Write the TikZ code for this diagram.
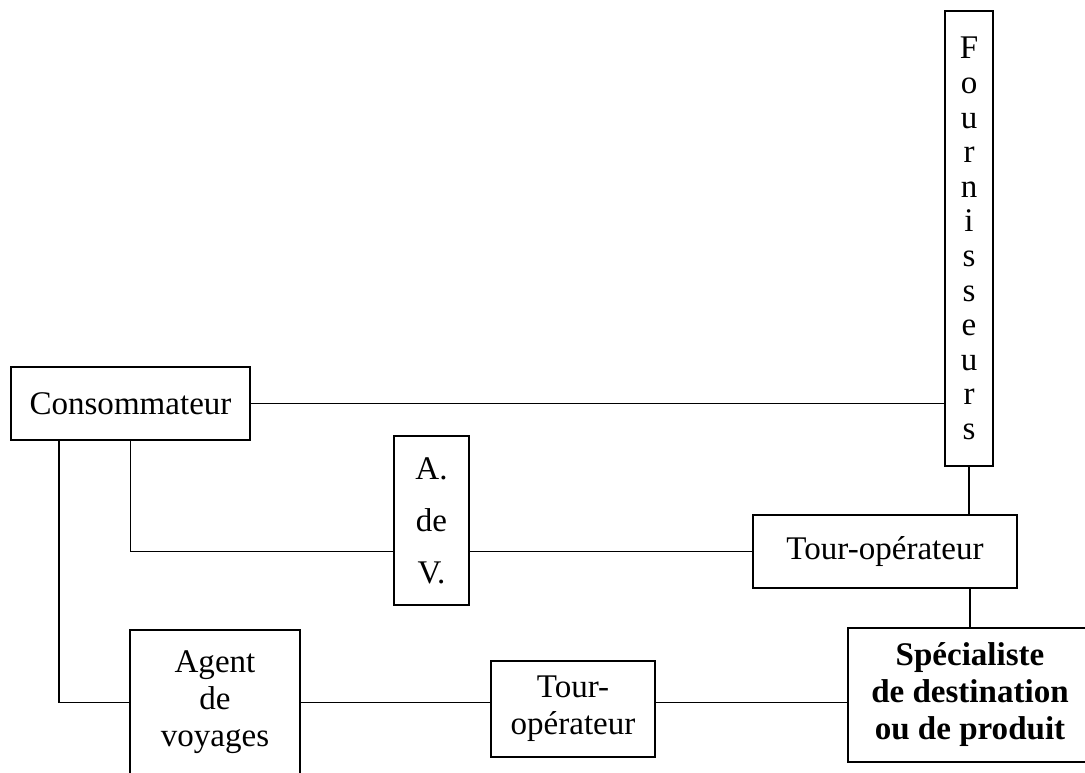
\documentclass[tikz,border=0pt]{standalone}
\usepackage{fontspec}
\setmainfont{Liberation Serif}
\usetikzlibrary{positioning}
\newcommand{\px}{0.025cm}
\tikzset{
  box/.style={draw, line width=1.3pt, align=center, inner sep=0pt, font=\fontsize{23.5}{26.3}\selectfont},
  link/.style={draw, line width=1.3pt},
}

\begin{document}
\begin{tikzpicture}[x=\px, y=-\px]
\useasboundingbox (0,0) rectangle (1085,772);
\clip (0,0) rectangle (1085,772);
\node[box, minimum width=48*\px, minimum height=455*\px, font=\fontsize{23.5}{24.6}\selectfont] (four) at (969,238.5) {F\\o\\u\\r\\n\\i\\s\\s\\e\\u\\r\\s};
\node[box, minimum width=239*\px, minimum height=73*\px] (cons) at (130.5,403.5) {Consommateur};
\node[box, minimum width=75*\px, minimum height=169*\px, font=\fontsize{23.5}{37}\selectfont] (adv) at (431.5,520.5) {A.\\de\\V.};
\node[box, minimum width=264*\px, minimum height=73*\px] (tour1) at (885,551.5) {Tour-opérateur};
\node[box, minimum width=170*\px, minimum height=145*\px] (agent) at (215,702.5) {Agent\\de\\voyages};
\node[box, minimum width=164*\px, minimum height=96*\px] (tour2) at (573,709) {Tour-\\opérateur};
\node[box, minimum width=244*\px, minimum height=134*\px, font=\bfseries\fontsize{23.5}{26.3}\selectfont] (spec) at (970,695) {Spécialiste\\de destination\\ou de produit};
\draw[link] (cons.east) -- (cons.east -| four.west);
\draw[link] (cons.south) |- (adv.west |- tour1.west);
\draw[link] (adv.east |- tour1.west) -- (tour1.west);
\draw[link] ([xshift=49*\px]cons.south west) |- (agent.west);
\draw[link] (agent.east) -- (agent.east -| tour2.west);
\draw[link] (agent.east -| tour2.east) -- (agent.east -| spec.west);
\draw[link] (four.south) -- (four.south |- tour1.north);
\draw[link] (tour1.south -| spec.north) -- (spec.north);
\end{tikzpicture}
\end{document}
